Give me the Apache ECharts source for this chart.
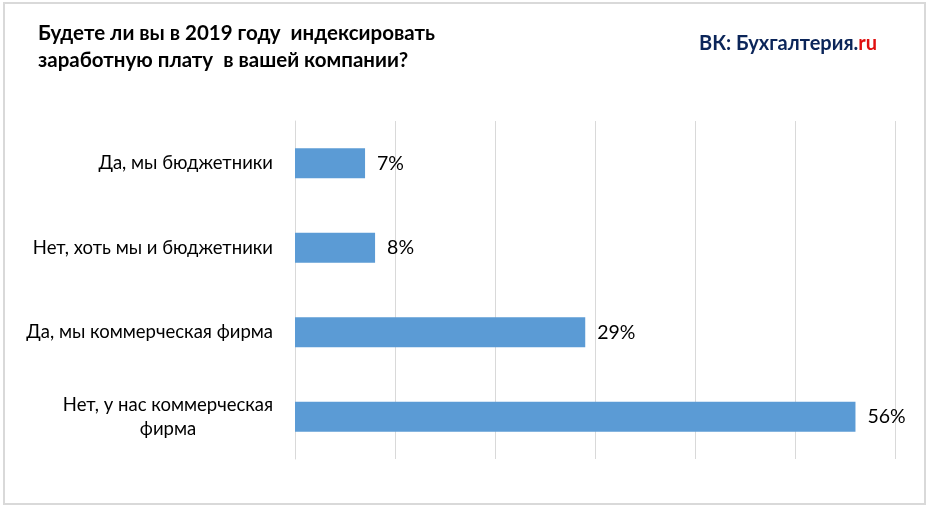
<!DOCTYPE html>
<html>
<head>
<meta charset="utf-8">
<style>
    html, body { margin: 0; padding: 0; background: #fff; }
    #chart { width: 929px; height: 508px; }
</style>
<script src="https://cdn.jsdelivr.net/npm/echarts@6/dist/echarts.min.js"></script>
</head>
<body>
<div id="chart"></div>
<script>
const fontName = 'Lato, "Open Sans", "Noto Sans", sans-serif';
const categories = [
    'Да, мы бюджетники',
    'Нет, хоть мы и бюджетники',
    'Да, мы коммерческая фирма',
    'Нет, у нас коммерческая\nфирма'
];
const values = [7, 8, 29, 56];
const titleLines = 'Будете ли вы в 2019 году  индексировать\nзаработную плату  в вашей компании?';
const brandName = 'ВК: Бухгалтерия.';
const brandSuffix = 'ru';

const chart = echarts.init(document.getElementById('chart'));

chart.setOption({
    animation: false,
    backgroundColor: '#fff',
    textStyle: {fontFamily: fontName},
    graphic: [
        {
            type: 'rect',
            shape: {x: 4, y: 3, width: 921, height: 501},
            style: {fill: 'none', stroke: '#d9d9d9', lineWidth: 2},
            silent: true
        }
    ],
    title: [
        {
            text: titleLines,
            left: 38,
            top: 20,
            padding: 0,
            textStyle: {fontFamily: fontName, fontSize: 20.5, fontWeight: 'bold', color: '#000', lineHeight: 27}
        },
        {
            text: '{a|' + brandName + '}{b|' + brandSuffix + '}',
            left: 699,
            top: 34,
            padding: 0,
            textStyle: {
                rich: {
                    a: {fontFamily: fontName, fontSize: 20, fontWeight: 'bold', color: '#0b2559'},
                    b: {fontFamily: fontName, fontSize: 20, fontWeight: 'bold', color: '#e01010'}
                }
            }
        }
    ],
    grid: {left: 295, top: 121, width: 600.5, height: 338, containLabel: false},
    xAxis: {
        type: 'value',
        min: 0,
        max: 60,
        interval: 10,
        axisLabel: {show: false},
        axisLine: {show: false},
        axisTick: {show: false},
        splitLine: {show: true, lineStyle: {color: '#d9d9d9', width: 1}}
    },
    yAxis: {
        type: 'category',
        inverse: true,
        data: categories,
        axisLine: {show: true, lineStyle: {color: '#d9d9d9', width: 1}},
        axisTick: {show: false},
        axisLabel: {
            margin: 22,
            color: '#000',
            fontFamily: fontName,
            fontSize: 18.5,
            interval: 0,
            formatter: function (value) {
                if (value.indexOf('\n') < 0) {
                    return value;
                }
                // the wrapped label is centred on itself, like in the original
                return value.split('\n').map((line) => '{c|' + line + '}').join('\n');
            },
            rich: {
                c: {width: 210, align: 'center', fontFamily: fontName, fontSize: 18.5, color: '#000', lineHeight: 24}
            }
        }
    },
    series: [
        {
            type: 'bar',
            data: values,
            barWidth: 30,
            itemStyle: {color: '#5b9bd5'},
            label: {
                show: true,
                position: 'right',
                distance: 12,
                formatter: '{c}%',
                color: '#000',
                fontFamily: fontName,
                fontSize: 19.5
            }
        }
    ]
});
</script>
</body>
</html>
